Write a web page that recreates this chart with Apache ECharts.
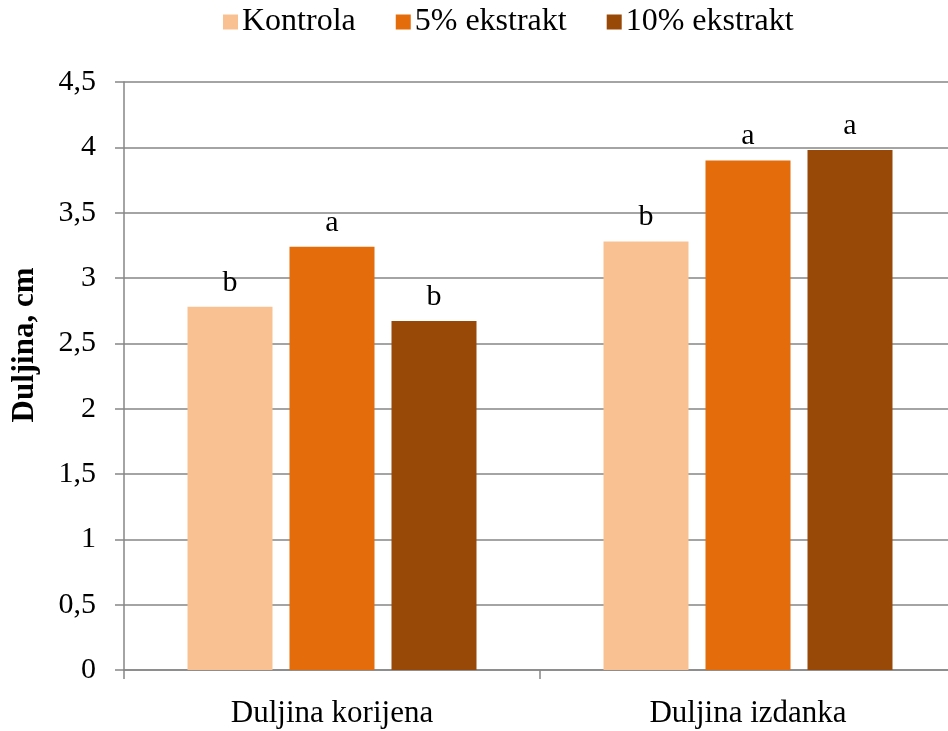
<!DOCTYPE html>
<html>
<head>
<meta charset="utf-8">
<script src="https://cdn.jsdelivr.net/npm/echarts@6/dist/echarts.min.js"></script>
<style>
html,body{margin:0;padding:0;background:#fff;}
#main{width:948px;height:731px;}
</style>
</head>
<body>
<div id="main"></div>
<script>
var categories = ['Duljina korijena', 'Duljina izdanka'];
var seriesNames = ['Kontrola', '5% ekstrakt', '10% ekstrakt'];
var kontrola = [2.78, 3.28];
var ekstrakt5 = [3.24, 3.90];
var ekstrakt10 = [2.67, 3.98];
var letters = [['b', 'b'], ['a', 'a'], ['b', 'a']];
var colors = ['#F9C192', '#E46C0A', '#984807'];

var font = 'Liberation Serif, Times New Roman, serif';
var chart = echarts.init(document.getElementById('main'));

function makeSeries(name, data, idx) {
	return {
		name: name,
		type: 'bar',
		data: data,
		barWidth: 85,
		barGap: '20%',
		itemStyle: { color: colors[idx] },
		label: {
			show: true,
			position: 'top',
			distance: 9,
			color: '#000',
			fontFamily: font,
			fontSize: 30,
			formatter: function(p) { return letters[idx][p.dataIndex]; }
		}
	};
}

chart.setOption({
	animation: false,
	legend: {
		top: 1,
		left: 218,
		itemWidth: 15,
		itemHeight: 15,
		itemGap: 40,
		icon: 'rect',
		textStyle: { fontFamily: font, fontSize: 32, color: '#000', padding: [0, 0, 0, -1] },
		data: seriesNames
	},
	grid: { left: 124, right: -8, top: 82, bottom: 61, outerBoundsMode: 'none' },
	xAxis: {
		type: 'category',
		data: categories,
		axisLine: { lineStyle: { color: '#868686', width: 1.5 } },
		axisTick: { show: true, length: 9, lineStyle: { color: '#868686', width: 1.5 } },
		axisLabel: { margin: 28, color: '#000', fontFamily: font, fontSize: 31 }
	},
	yAxis: {
		type: 'value',
		min: 0,
		max: 4.5,
		interval: 0.5,
		axisLine: { show: true, lineStyle: { color: '#868686', width: 1.5 } },
		axisTick: { show: true, length: 9, lineStyle: { color: '#868686', width: 1.5 } },
		splitLine: { lineStyle: { color: '#868686', width: 1.5 } },
		axisLabel: {
			margin: 28,
			color: '#000',
			fontFamily: font,
			fontSize: 30,
			formatter: function(v) { return String(v).replace('.', ','); }
		}
	},
	graphic: [{
		type: 'text',
		x: 25,
		y: 345,
		rotation: Math.PI / 2,
		style: {
			text: 'Duljina, cm',
			fill: '#000',
			font: 'bold 31px ' + font,
			textAlign: 'center',
			textVerticalAlign: 'middle'
		}
	}],
	series: [
		makeSeries(seriesNames[0], kontrola, 0),
		makeSeries(seriesNames[1], ekstrakt5, 1),
		makeSeries(seriesNames[2], ekstrakt10, 2)
	]
});
</script>
</body>
</html>
